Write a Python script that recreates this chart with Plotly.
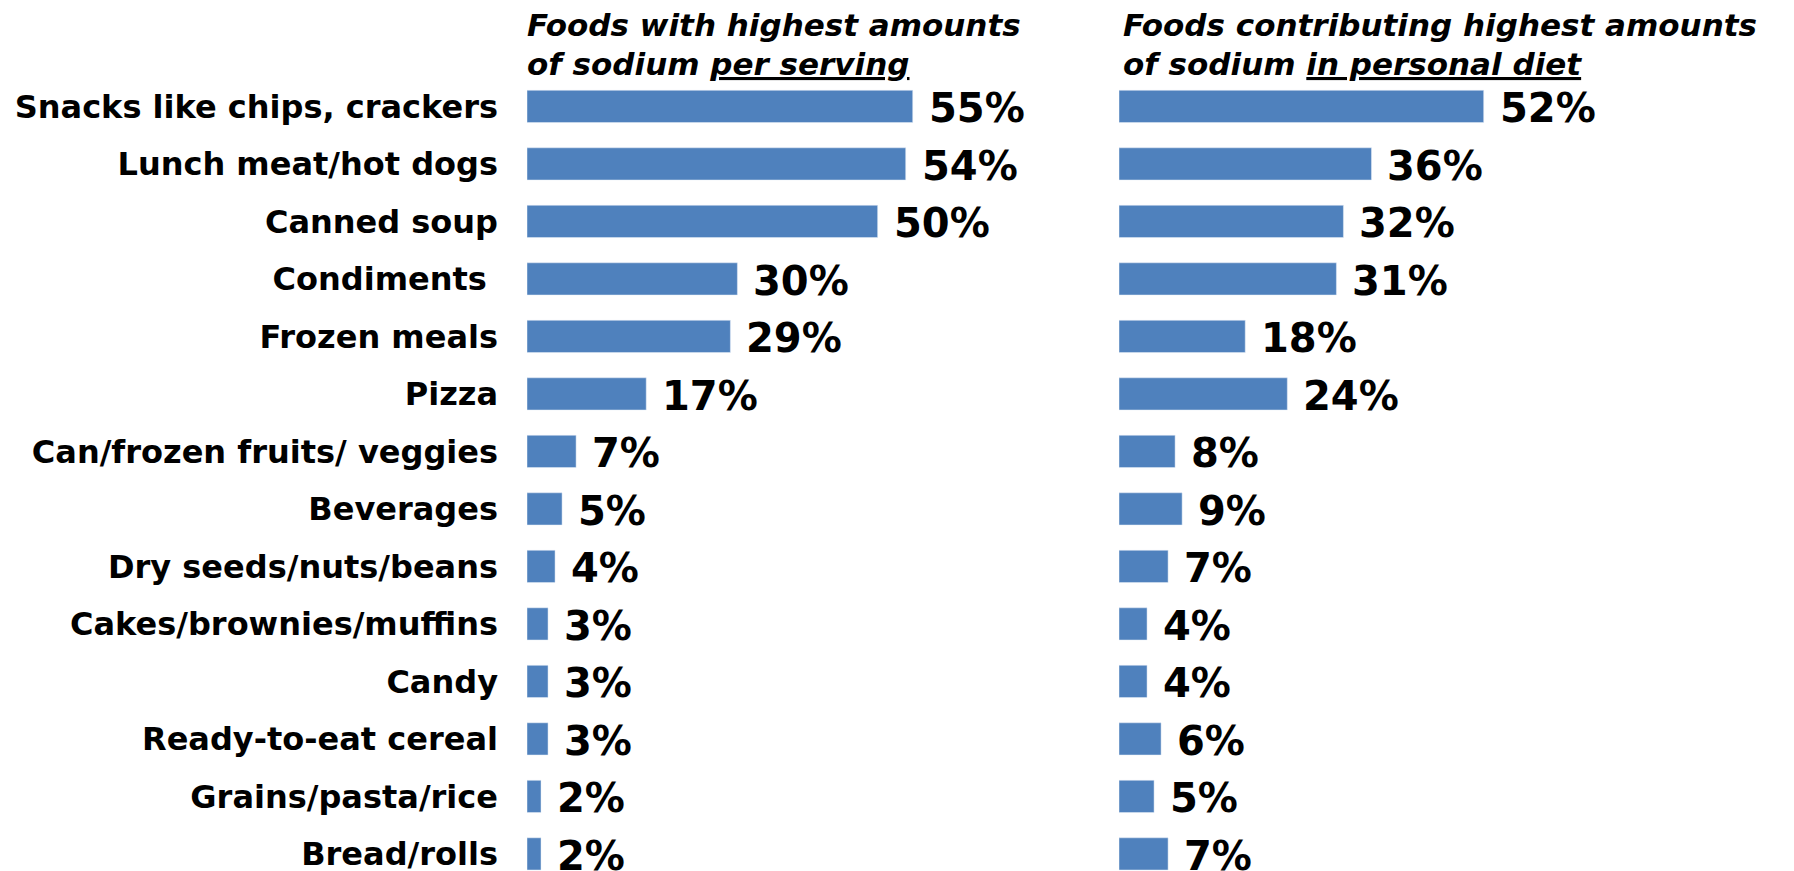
import plotly.graph_objects as go

foods = ["Snacks like chips, crackers", "Lunch meat/hot dogs", "Canned soup",
         "Condiments\u00a0", "Frozen meals", "Pizza", "Can/frozen fruits/ veggies",
         "Beverages", "Dry seeds/nuts/beans", "Cakes/brownies/muffins", "Candy",
         "Ready-to-eat cereal", "Grains/pasta/rice", "Bread/rolls"]
per_serving = [55, 54, 50, 30, 29, 17, 7, 5, 4, 3, 3, 3, 2, 2]
personal_diet = [52, 36, 32, 31, 18, 24, 8, 9, 7, 4, 4, 6, 5, 7]

W, H = 1794, 871
OFF = 8  # page margin of the html body
BLUE = "#4F81BD"
FONT = "DejaVu Sans"
row_h = 57.5
top_val = -(106.4 - OFF) / row_h
bot_val = top_val + H / row_h
px_per = 7.013
span = 60

fig = go.Figure()
fig.add_trace(go.Bar(y=foods, x=per_serving, orientation="h", marker_color=BLUE,
                     width=0.56, xaxis="x", yaxis="y", hoverinfo="skip"))
fig.add_trace(go.Bar(y=foods, x=personal_diet, orientation="h", marker_color=BLUE,
                     width=0.56, xaxis="x2", yaxis="y2", hoverinfo="skip"))

ann = []
for f, v in zip(foods, per_serving):
    ann.append(dict(x=v, y=f, xref="x", yref="y", text=f"<b>{v}%</b>", showarrow=False,
                    xanchor="left", xshift=14, yshift=-2,
                    font=dict(family=FONT, size=40, color="black")))
for f, v in zip(foods, personal_diet):
    ann.append(dict(x=v, y=f, xref="x2", yref="y2", text=f"<b>{v}%</b>", showarrow=False,
                    xanchor="left", xshift=14, yshift=-2,
                    font=dict(family=FONT, size=40, color="black")))

# panel headers
hdr = dict(family=FONT, size=31, color="black")
def header(x, y, txt):
    return dict(x=(x - OFF) / W, y=1 - (y - OFF) / H, xref="paper", yref="paper",
                showarrow=False, xanchor="left", yanchor="middle",
                text=f"<b><i>{txt}</i></b>", font=hdr)

ann += [
    header(525, 25, "Foods with highest amounts"),
    header(525, 64, "of sodium <u>per serving</u>"),
    header(1121, 25, "Foods contributing highest amounts"),
    header(1121, 64, "of sodium <u>in personal diet</u>"),
]

x0 = (527 - OFF) / W
x2 = (1119 - OFF) / W
wd = span * px_per / W
fig.update_layout(
    width=W, height=H, margin=dict(l=0, r=0, t=0, b=0),
    paper_bgcolor="white", plot_bgcolor="white", showlegend=False,
    xaxis=dict(domain=[x0, x0 + wd], range=[0, span], visible=False),
    xaxis2=dict(domain=[x2, x2 + wd], range=[0, span], visible=False),
    yaxis=dict(anchor="x", range=[bot_val, top_val], showgrid=False, zeroline=False,
               showline=False, ticks="", ticklabelstandoff=28,
               tickprefix="<b>", ticksuffix="</b>",
               tickfont=dict(family=FONT, size=32, color="black")),
    yaxis2=dict(anchor="x2", range=[bot_val, top_val], showgrid=False, zeroline=False,
                showline=False, showticklabels=False),
    annotations=ann,
)

fig.write_html("out.html")
